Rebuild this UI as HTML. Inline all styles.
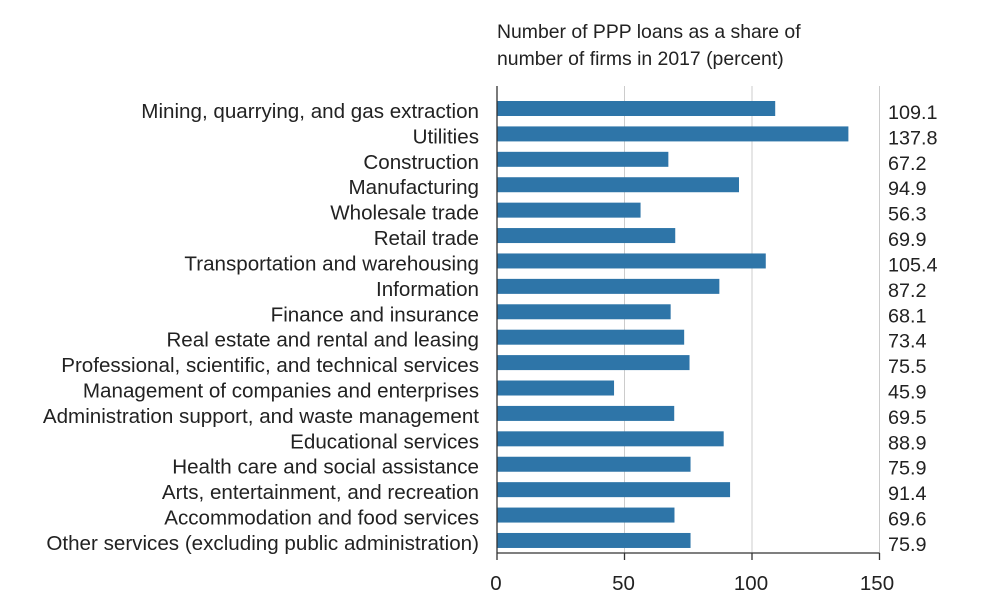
<!DOCTYPE html>
<html><head><style>body{margin:0;background:#fff}</style></head><body>
<svg width="991" height="591" xmlns="http://www.w3.org/2000/svg" font-family="Liberation Sans, Arial, sans-serif" fill="#222">
<text x="497" y="38" font-size="19.4">Number of PPP loans as a share of</text>
<text x="497" y="65" font-size="19.4">number of firms in 2017 (percent)</text>
<g stroke="#ccc" stroke-width="1">
<line x1="624.5" y1="86" x2="624.5" y2="553"/><line x1="752" y1="86" x2="752" y2="553"/><line x1="879.5" y1="86" x2="879.5" y2="553"/>
</g>
<g id="bars" fill="#2e75a8"></g>
<g stroke="#333" stroke-width="1.3">
<line x1="497" y1="86" x2="497" y2="560"/><line x1="497" y1="553" x2="879.5" y2="553"/>
<line x1="624.5" y1="553" x2="624.5" y2="560"/><line x1="752" y1="553" x2="752" y2="560"/><line x1="879.5" y1="553" x2="879.5" y2="560"/>
</g>
<g font-size="20.5" text-anchor="middle"><text x="496" y="590">0</text><text x="623.5" y="590">50</text><text x="751" y="590">100</text><text x="877" y="590">150</text></g>
<g id="lab"></g>
</svg>
<script>
var d=[["Mining, quarrying, and gas extraction",109.1],["Utilities",137.8],["Construction",67.2],["Manufacturing",94.9],["Wholesale trade",56.3],["Retail trade",69.9],["Transportation and warehousing",105.4],["Information",87.2],["Finance and insurance",68.1],["Real estate and rental and leasing",73.4],["Professional, scientific, and technical services",75.5],["Management of companies and enterprises",45.9],["Administration support, and waste management ",69.5],["Educational services",88.9],["Health care and social assistance",75.9],["Arts, entertainment, and recreation",91.4],["Accommodation and food services",69.6],["Other services (excluding public administration)",75.9]];
var ns="http://www.w3.org/2000/svg",b=document.getElementById("bars"),l=document.getElementById("lab");
d.forEach(function(r,i){var y=101+i*25.41;
var e=document.createElementNS(ns,"rect");e.setAttribute("x",497);e.setAttribute("y",y);e.setAttribute("width",r[1]*2.55);e.setAttribute("height",15);b.appendChild(e);
var t=document.createElementNS(ns,"text");t.setAttribute("x",479);t.setAttribute("y",y+17);t.setAttribute("font-size","20.6");t.setAttribute("text-anchor","end");t.setAttribute("xml:space","preserve");t.textContent=r[0];l.appendChild(t);
t=document.createElementNS(ns,"text");t.setAttribute("x",888);t.setAttribute("y",y+18);t.setAttribute("font-size","19.8");t.textContent=r[1].toFixed(1);l.appendChild(t);});
</script>
</body></html>
